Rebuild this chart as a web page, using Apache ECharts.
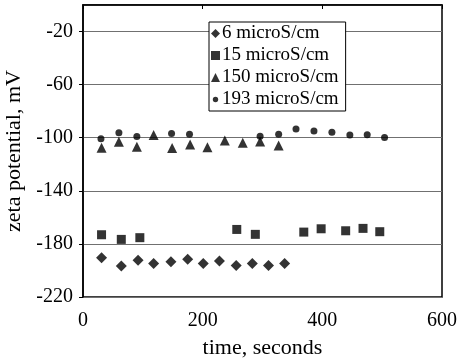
<!DOCTYPE html>
<html>
<head>
<meta charset="utf-8">
<script src="https://cdn.jsdelivr.net/npm/echarts@6/dist/echarts.min.js"></script>
<style>html,body{margin:0;padding:0;background:#fff}#c{width:458px;height:364px}</style>
</head>
<body>
<div id="c"></div>
<script>
const seriesNames = ['6 microS/cm', '15 microS/cm', '150 microS/cm', '193 microS/cm'];
const t6 = [31, 64, 92, 118, 147, 175, 201, 228, 256, 283, 310, 337];
const z6 = [-190.4, -196.7, -192.4, -194.8, -193.4, -191.6, -194.8, -192.9, -196.2, -194.8, -196.2, -194.8];
const t15 = [31, 64, 95, 257, 288, 369, 398, 439, 468, 496];
const z15 = [-173.1, -176.6, -175.3, -169.1, -172.8, -171.1, -168.6, -170.1, -168.3, -170.8];
const t150 = [31, 60, 90, 118, 149, 179, 208, 237, 267, 296, 327];
const z150 = [-107.6, -103.1, -106.8, -98.0, -107.8, -105.1, -107.1, -102.1, -103.8, -102.8, -105.8];
const t193 = [30, 60, 90, 148, 178, 296, 327, 356, 386, 416, 446, 475, 504];
const z193 = [-100.8, -96.3, -99.0, -96.8, -97.3, -98.8, -97.3, -93.5, -95.0, -95.8, -98.0, -97.8, -99.8];
const xTicks = [0, 200, 400, 600];
const yTicks = [-220, -180, -140, -100, -60, -20];

const pair = (xs, ys) => xs.map((x, i) => [x, ys[i]]);
const font = 'Liberation Serif';
const symbols = ['diamond', 'rect', 'triangle', 'circle'];
const sizes = [11, 9, 10, 7];
const datas = [pair(t6, z6), pair(t15, z15), pair(t150, z150), pair(t193, z193)];
const smallDot = 'image://data:image/svg+xml;utf8,' + encodeURIComponent(
  '<svg xmlns="http://www.w3.org/2000/svg" width="10" height="10" viewBox="0 0 10 10"><circle cx="5" cy="5" r="3" fill="#000"/></svg>');
const legendIcons = ['diamond', 'rect', 'triangle', smallDot];

const chart = echarts.init(document.getElementById('c'), null, {renderer: 'canvas'});
chart.setOption({
  animation: false,
  backgroundColor: '#fff',
  grid: {left: 83, right: 16, top: 5, bottom: 67, containLabel: false, outerBoundsMode: 'none',
    show: true, borderColor: '#000', borderWidth: 1.5, backgroundColor: 'transparent'},
  legend: {
    orient: 'vertical', left: 209, top: 22,
    itemWidth: 9, itemHeight: 9, itemGap: 3,
    padding: [2, 7, 2, 2],
    backgroundColor: '#fff', borderColor: '#000', borderWidth: 1,
    textStyle: {fontFamily: font, fontSize: 19, color: '#000', padding: [0, 0, 0, -3], lineHeight: 19},
    data: seriesNames.map((n, i) => ({name: n, icon: legendIcons[i]}))
  },
  xAxis: {
    type: 'value', min: 0, max: 600, interval: 200,
    name: 'time, seconds', nameLocation: 'middle', nameGap: 40,
    nameTextStyle: {fontFamily: font, fontSize: 22, color: '#000'},
    axisLine: {show: true, lineStyle: {color: '#000', width: 1.5}},
    axisTick: {show: true, inside: false, length: 4, lineStyle: {color: '#000'}},
    axisLabel: {fontFamily: font, fontSize: 20, color: '#000', margin: 14,
      formatter: v => xTicks.includes(v) ? String(v) : ''},
    splitLine: {show: false}
  },
  yAxis: {
    type: 'value', min: -220, max: 0, interval: 40,
    name: 'zeta potential, mV', nameLocation: 'middle', nameGap: 53,
    nameTextStyle: {fontFamily: font, fontSize: 22, color: '#000'},
    axisLine: {show: true, lineStyle: {color: '#000', width: 1.5}},
    axisTick: {show: true, inside: false, length: 4, lineStyle: {color: '#000'}},
    axisLabel: {fontFamily: font, fontSize: 20, color: '#000', margin: 10, showMaxLabel: false,
      formatter: v => yTicks.includes(v) ? String(v) : ''},
    splitLine: {show: true, lineStyle: {color: '#707070', width: 1}}
  },
  series: datas.map((d, i) => ({
    name: seriesNames[i], type: 'scatter', data: d,
    symbol: symbols[i], symbolSize: sizes[i],
    itemStyle: {color: '#000'}, z: 2 + i
  }))
});
</script>
</body>
</html>
